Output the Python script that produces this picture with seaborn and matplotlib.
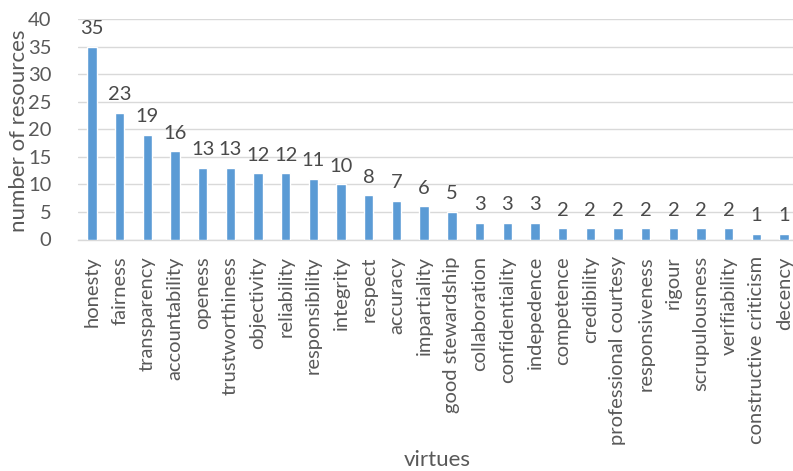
import matplotlib
matplotlib.use("Agg")
import matplotlib.pyplot as plt
import seaborn as sns
import pandas as pd

virtues = ["honesty", "fairness", "transparency", "accountability", "openess",
           "trustworthiness", "objectivity", "reliability", "responsibility",
           "integrity", "respect", "accuracy", "impartiality", "good stewardship",
           "collaboration", "confidentiality", "indepedence", "competence",
           "credibility", "professional courtesy", "responsiveness", "rigour",
           "scrupulousness", "verifiability", "constructive criticism", "decency"]
counts = [35, 23, 19, 16, 13, 13, 12, 12, 11, 10, 8, 7, 6, 5,
          3, 3, 3, 2, 2, 2, 2, 2, 2, 2, 1, 1]
y_ticks = [0, 5, 10, 15, 20, 25, 30, 35, 40]

df = pd.DataFrame({"virtue": virtues, "count": counts})

sns.set_style("white")
plt.rcParams["font.family"] = ["Lato", "DejaVu Sans"]

W, H = 793, 471
fig = plt.figure(figsize=(W / 100, H / 100), dpi=100)
ax = fig.add_axes([78 / W, 1 - 239.5 / H, 720 / W, 220.5 / H])

bar_color = "#5B9BD5"
text_grey = "#595959"

sns.barplot(data=df, x="virtue", y="count", color=bar_color, width=0.34,
            saturation=1, ax=ax, zorder=3)

ax.set_ylim(0, 40)
ax.set_xlim(-0.5, len(virtues) - 0.5)
ax.set_yticks(y_ticks)
ax.yaxis.grid(True, color="#D9D9D9", linewidth=1, zorder=0)
ax.set_axisbelow(True)
for s in ["top", "right", "left"]:
    ax.spines[s].set_visible(False)
ax.spines["bottom"].set_color("#D9D9D9")
ax.spines["bottom"].set_linewidth(1)

ax.tick_params(axis="y", length=0, labelsize=14.5, labelcolor=text_grey, pad=19)
ax.tick_params(axis="x", length=0, labelsize=14.5, labelcolor=text_grey, pad=12)
ax.set_xticks(range(len(virtues)))
ax.set_xticklabels(virtues, rotation=90)

# value labels above each bar
for i, v in enumerate(counts):
    ax.text(i, v + 2.3, str(v), ha="center", va="baseline", fontsize=14.5,
            color="#4a4a4a")

ax.set_ylabel("")
ax.set_xlabel("")
fig.text(19 / W, 1 - 131 / H, "number of resources", ha="center", va="center",
         rotation=90, fontsize=16, color=text_grey)
fig.text(437 / W, 1 - 460 / H, "virtues", ha="center", va="center",
         fontsize=16, color=text_grey)

fig.savefig("out.png", dpi=100)
